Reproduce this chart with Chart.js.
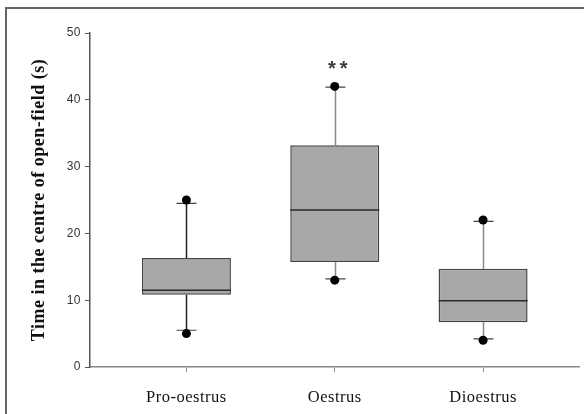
<!DOCTYPE html>
<html>
<head>
<meta charset="utf-8">
<script src="https://cdn.jsdelivr.net/npm/chart.js@4"></script>
<style>
  html, body { margin: 0; padding: 0; background: #fff; overflow: hidden; }
  #wrap { position: relative; width: 584px; height: 414px; overflow: hidden; }
  #frame { position: absolute; left: 5px; top: 7px; width: 600px; height: 430px; border: 2px solid #666; box-sizing: border-box; pointer-events: none; }
</style>
</head>
<body>
<div id="wrap">
  <canvas id="myChart" width="584" height="414"></canvas>
  <div id="frame"></div>
</div>
<script>
// box plot stats
const categories = ['Pro-oestrus', 'Oestrus', 'Dioestrus'];
const whiskerLow = [5.5, 13.2, 4.2];
const q1 = [10.8, 15.7, 6.7];
const median = [11.5, 23.5, 9.9];
const q3 = [16.3, 33.2, 14.7];
const whiskerHigh = [24.5, 41.9, 21.8];
const dotLow = [5, 13, 4];
const dotHigh = [25, 42, 22];
const marks = ['', '**', ''];
const markLevel = [0, 45.2, 0];
const yTicks = [0, 10, 20, 30, 40, 50];

const whiskerColors = ['#222', '#8a8a8a', '#8a8a8a'];

const boxData = categories.map((c, i) => ({ x: i, y: [q1[i], q3[i]] }));
const dotData = [];
categories.forEach((c, i) => {
  dotData.push({ x: i, y: dotLow[i] });
  dotData.push({ x: i, y: dotHigh[i] });
});

// whiskers, caps, median and the ** mark
const boxPlugin = {
  id: 'boxExtras',
  beforeDraw(chart) {
    // the original lettering is a bit wider than the fonts we have
    chart.ctx.letterSpacing = '0.5px';
  },
  beforeDatasetsDraw(chart) {
    const ctx = chart.ctx;
    ctx.letterSpacing = '0px';
    const xs = chart.scales.x, ys = chart.scales.y;
    ctx.save();
    categories.forEach((c, i) => {
      const px = Math.round(xs.getPixelForValue(i)) + 0.5;
      const capHalf = 10;
      ctx.strokeStyle = whiskerColors[i];
      ctx.lineWidth = 1.5;
      ctx.beginPath();
      ctx.moveTo(px, ys.getPixelForValue(q3[i]));
      ctx.lineTo(px, ys.getPixelForValue(whiskerHigh[i]));
      ctx.moveTo(px, ys.getPixelForValue(q1[i]));
      ctx.lineTo(px, ys.getPixelForValue(whiskerLow[i]));
      ctx.stroke();
      ctx.strokeStyle = '#444';
      ctx.lineWidth = 1.2;
      ctx.beginPath();
      [whiskerHigh[i], whiskerLow[i]].forEach(v => {
        const py = ys.getPixelForValue(v);
        ctx.moveTo(px - capHalf, py);
        ctx.lineTo(px + capHalf, py);
      });
      ctx.stroke();
    });
    ctx.restore();
  },
  afterDatasetDraw(chart, args) {
    if (args.index !== 1) return;
    const ctx = chart.ctx;
    const ys = chart.scales.y;
    ctx.save();
    ctx.strokeStyle = '#2a2a2a';
    ctx.lineWidth = 1.5;
    args.meta.data.forEach((bar, i) => {
      const py = ys.getPixelForValue(median[i]);
      ctx.beginPath();
      ctx.moveTo(bar.x - bar.width / 2, py);
      ctx.lineTo(bar.x + bar.width / 2, py);
      ctx.stroke();
    });
    ctx.restore();
  },
  afterDraw(chart) {
    const ctx = chart.ctx;
    const xs = chart.scales.x, ys = chart.scales.y;
    ctx.save();
    ctx.fillStyle = '#3a3a3a';
    ctx.font = 'bold 20px "Liberation Sans", sans-serif';
    ctx.letterSpacing = '4px';
    ctx.textAlign = 'center';
    ctx.textBaseline = 'middle';
    marks.forEach((m, i) => {
      if (!m) return;
      ctx.fillText(m, xs.getPixelForValue(i) + 5, ys.getPixelForValue(markLevel[i]) + 4);
    });
    ctx.restore();
  }
};

const ctx = document.getElementById('myChart').getContext('2d');
const myChart = new Chart(ctx, {
  type: 'bar',
  data: {
    datasets: [{
      type: 'scatter',
      data: dotData,
      order: 0,
      pointRadius: 4.5,
      pointBackgroundColor: '#000',
      pointBorderColor: '#000',
      pointBorderWidth: 0
    }, {
      type: 'bar',
      data: boxData,
      order: 1,
      backgroundColor: '#a8a8a8',
      borderColor: '#444',
      borderWidth: 1.5,
      borderSkipped: false,
      barPercentage: 0.6,
      categoryPercentage: 1
    }]
  },
  plugins: [boxPlugin],
  options: {
    responsive: false,
    animation: false,
    events: [],
    layout: { padding: { top: 33, right: 3, left: 0, bottom: 0 } },
    plugins: { legend: { display: false }, tooltip: { enabled: false } },
    scales: {
      x: {
        type: 'linear',
        min: -0.65,
        max: 2.65,
        offset: false,
        grid: { offset: false, drawOnChartArea: false, drawTicks: true, tickLength: 5, color: '#888' },
        border: { display: true, color: '#888', width: 1.5 },
        afterBuildTicks: scale => { scale.ticks = categories.map((c, i) => ({ value: i })); },
        afterFit: scale => { scale.height = 47; },
        ticks: {
          autoSkip: false,
          maxRotation: 0,
          padding: 16,
          color: '#111',
          font: { family: '"Liberation Serif", serif', size: 16.5 },
          callback: v => categories[v]
        }
      },
      y: {
        min: 0,
        max: 50,
        afterBuildTicks: scale => { scale.ticks = yTicks.map(v => ({ value: v })); },
        afterFit: scale => { scale.width = 90; },
        grid: { drawOnChartArea: false, drawTicks: true, tickLength: 5, color: '#555' },
        border: { display: true, color: '#555', width: 1.5 },
        ticks: {
          padding: 4,
          color: '#333',
          font: { family: '"Liberation Sans", Arial, sans-serif', size: 12 }
        },
        title: {
          display: true,
          text: 'Time in the centre of open-field (s)',
          color: '#111',
          padding: { top: 29, bottom: 0 },
          font: { family: '"Liberation Serif", serif', size: 18, weight: 'bold' }
        }
      }
    }
  }
});
</script>
</body>
</html>
